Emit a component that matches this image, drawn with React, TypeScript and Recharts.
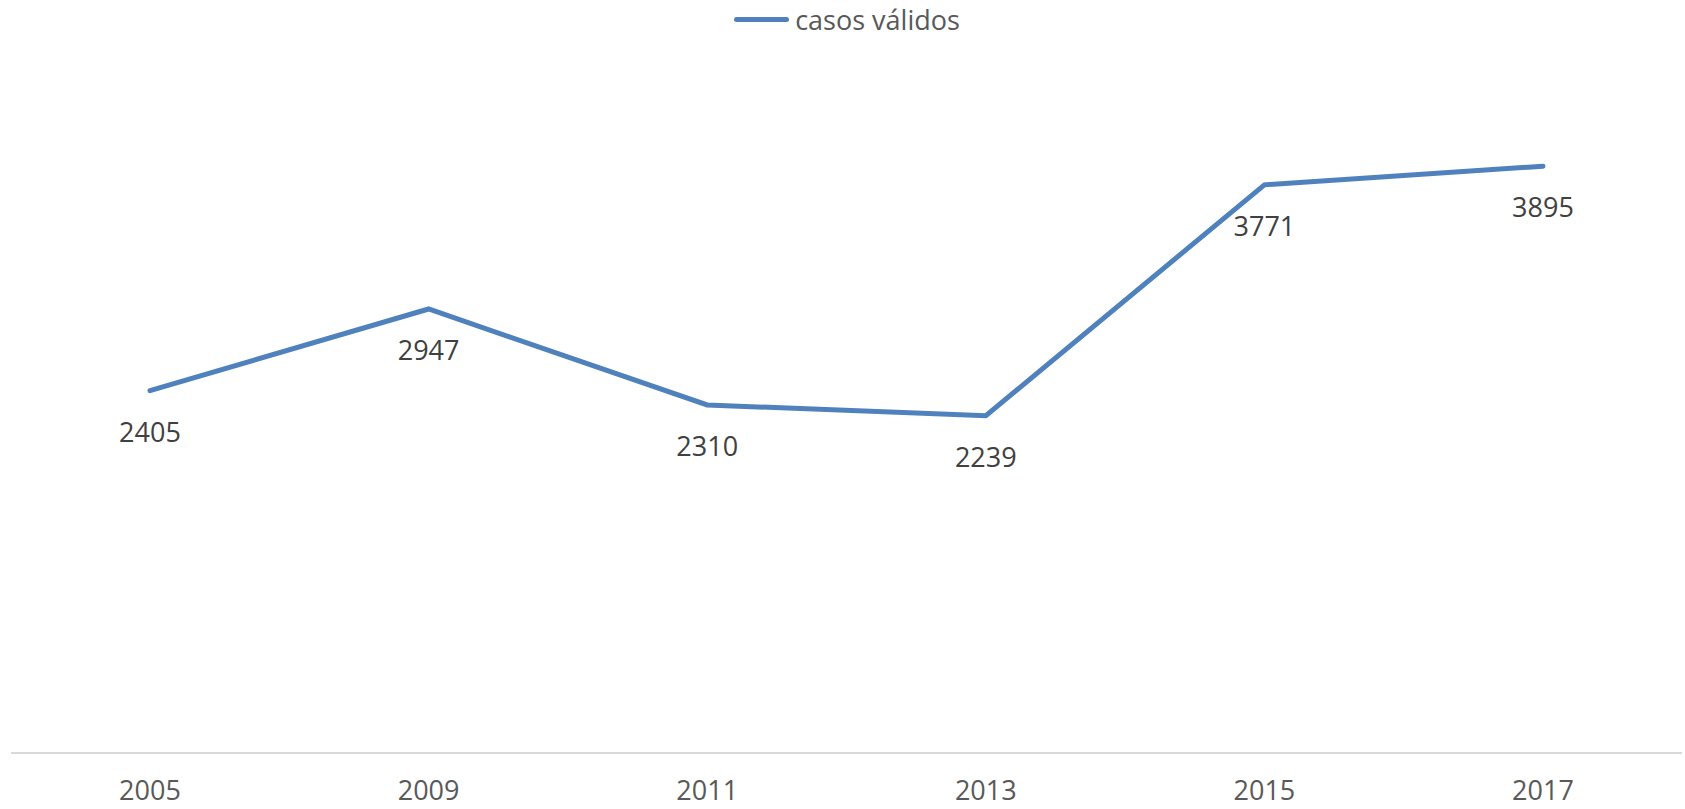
import { LineChart, Line, XAxis, YAxis, Legend, LabelList } from "recharts"

const years = ["2005", "2009", "2011", "2013", "2015", "2017"]
const casosValidos = [2405, 2947, 2310, 2239, 3771, 3895]

const data = years.map((year, i) => ({ year, casos: casosValidos[i] }))

const FONT = "'Open Sans', sans-serif"
const FONT_SIZE = 27
const LINE_COLOR = "#4F81BD"

function LegendContent() {
    return (
        <div
            style={{
                display: "flex",
                alignItems: "center",
                justifyContent: "center",
                height: 38,
                fontFamily: FONT,
                fontSize: FONT_SIZE,
                color: "#595959",
                paddingLeft: 9,
            }}
        >
            <span
                style={{
                    display: "inline-block",
                    width: 55,
                    height: 5,
                    borderRadius: 3,
                    background: LINE_COLOR,
                    marginRight: 6,
                }}
            />
            <span>casos válidos</span>
        </div>
    )
}

export default function App() {
    return (
        <div style={{ position: "absolute", left: 0, top: 0, background: "#fff" }}>
            <LineChart
                width={1685}
                height={809}
                data={data}
                margin={{ top: 75, right: 3, bottom: 0, left: 11 }}
            >
                <XAxis
                    dataKey="year"
                    height={56}
                    padding={{ left: 139, right: 139 }}
                    tickLine={false}
                    tickMargin={22}
                    axisLine={{ stroke: "#D9D9D9", strokeWidth: 2 }}
                    tick={{ fill: "#595959", fontSize: FONT_SIZE, fontFamily: FONT }}
                />
                <YAxis hide domain={[0, 4500]} />
                <Legend
                    verticalAlign="middle"
                    align="center"
                    layout="horizontal"
                    wrapperStyle={{ top: 0, left: 0, width: 1685 }}
                    content={<LegendContent />}
                />
                <Line
                    type="linear"
                    dataKey="casos"
                    name="casos válidos"
                    stroke={LINE_COLOR}
                    strokeWidth={5}
                    strokeLinecap="round"
                    dot={false}
                    activeDot={false}
                    isAnimationActive={false}
                >
                    <LabelList
                        dataKey="casos"
                        position="bottom"
                        offset={32}
                        fill="#404040"
                        fontSize={FONT_SIZE}
                        fontFamily={FONT}
                    />
                </Line>
            </LineChart>
        </div>
    )
}
